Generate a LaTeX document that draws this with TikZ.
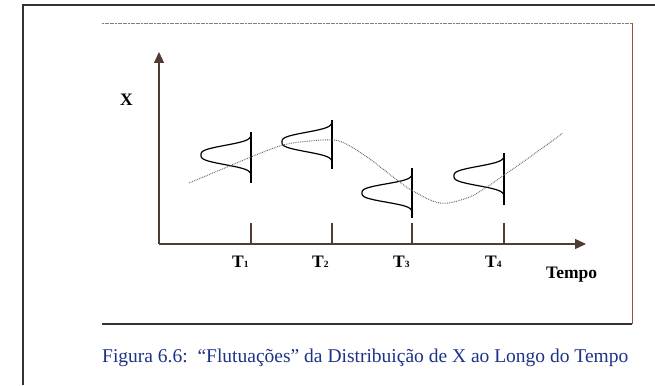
\documentclass[tikz,border=0pt]{standalone}
\usepackage{fontspec}
\setmainfont{Liberation Serif}
\usetikzlibrary{arrows.meta}
\definecolor{axiscol}{RGB}{80,60,52}
\definecolor{framecol}{RGB}{50,50,50}
\definecolor{redline}{RGB}{150,80,60}
\definecolor{capblue}{RGB}{30,50,135}
\definecolor{trendcol}{RGB}{110,100,100}
\newcommand\drawbellshape[4]{% x0, yc, h, A
  \draw[bell] plot[domain=-1:1, samples=80, smooth]
    ({#1-#4*exp(-(abs(\x*1.62))^3)}, {#2+\x*#3});}
\newcommand\tsub[1]{{\fontsize{9.5}{9.5}\selectfont #1}}
\begin{document}
\begin{tikzpicture}[x=1pt,y=-1pt,
  outerline/.style={draw=framecol, line width=1.3pt},
  boxtop/.style={draw=gray, line width=0.7pt, dash pattern=on 2pt off 0.6pt},
  boxright/.style={draw=redline, line width=0.8pt},
  boxbottom/.style={draw=framecol, line width=1.2pt},
  axis/.style={draw=axiscol, line width=1.2pt, -{Triangle[length=11pt,width=10pt]}},
  tickline/.style={draw=axiscol, line width=1.2pt},
  bell/.style={draw=black, line width=1.2pt},
  trend/.style={draw=trendcol, line width=1pt, dash pattern=on 0.8pt off 1pt},
  lab/.style={font=\fontsize{17.5}{19}\selectfont\bfseries, inner sep=0pt, anchor=base west},
  captext/.style={font=\fontsize{19.5}{21}\selectfont, text=capblue, inner sep=0pt, anchor=base west}]
\useasboundingbox (0,0) rectangle (655,385);
\fill[white] (0,0) rectangle (655,385);
% outer frame
\coordinate (oTL) at (23,5);
\coordinate (oTR) at (655,5);
\coordinate (oBL) at (23,385);
\draw[outerline] (oTR) -- (oTL) -- (oBL);
% inner box
\coordinate (iTL) at (102,23);
\coordinate (iTR) at (632,23);
\coordinate (iBR) at (632,324);
\coordinate (iBL) at (102,324);
\draw[boxtop] (iTL) -- (iTR);
\draw[boxright] (iTR) -- (iBR);
\draw[boxbottom] (iBL) -- (iBR);
% axes
\coordinate (O) at (159,244);
\coordinate (ytop) at (159,52);
\coordinate (xend) at (586,244);
\draw[axis] (O) -- (ytop);
\draw[axis] (O) -- (xend);
% ticks
\foreach \n/\xx in {1/251,2/332,3/412,4/504}{
  \coordinate (tk\n a) at (\xx,223);
  \coordinate (tk\n b) at (\xx,244);
  \draw[tickline] (tk\n a) -- (tk\n b);
}
% bell axes (vertical lines)
\coordinate (b1a) at (251,132); \coordinate (b1b) at (251,183);
\coordinate (b2a) at (332,120); \coordinate (b2b) at (332,169);
\coordinate (b3a) at (412,168); \coordinate (b3b) at (412,218);
\coordinate (b4a) at (504,153); \coordinate (b4b) at (504,205);
\draw[bell] (b1a) -- (b1b);
\draw[bell] (b2a) -- (b2b);
\draw[bell] (b3a) -- (b3b);
\draw[bell] (b4a) -- (b4b);
% bells
\drawbellshape{251}{155}{18}{50}
\drawbellshape{332}{142}{18}{50}
\drawbellshape{412}{193}{17}{50}
\drawbellshape{504}{176}{18}{50}
% trend
\draw[trend] plot[smooth, tension=0.6] coordinates {(189,183) (220,170) (251,157) (283,145) (310,141) (327,140) (342,142) (367,157) (397,180) (413,191) (440,203) (467,198) (487,187) (504,175) (530,157) (563,133)};
% labels
\node[lab] (X) at (120,106) {X};
\node[lab] (T1) at (232,267) {T\tsub{1}};
\node[lab] (T2) at (312,267) {T\tsub{2}};
\node[lab] (T3) at (393,267) {T\tsub{3}};
\node[lab] (T4) at (485,267) {T\tsub{4}};
\node[lab] (tempo) at (546,278) {Tempo};
\node[captext] (caption) at (102,362) {Figura 6.6:\ \ “Flutuações” da Distribuição de X ao Longo do Tempo};
\end{tikzpicture}
\end{document}
